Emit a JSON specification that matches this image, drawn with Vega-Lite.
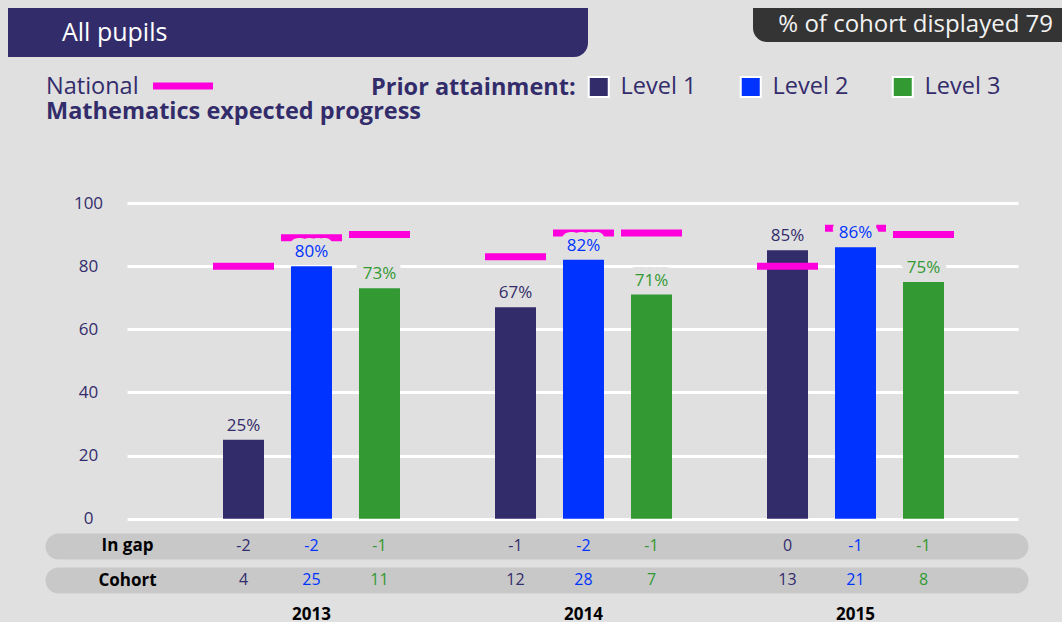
{
  "$schema": "https://vega.github.io/schema/vega-lite/v6.json",
  "background": "#e0e0e0",
  "padding": {"left": 8, "top": 8, "right": 0, "bottom": 4},
  "config": {"font": "Open Sans", "view": {"stroke": null}},
  "spacing": 43,
  "vconcat": [
    {
      "spacing": 165,
      "hconcat": [
        {
          "width": 580, "height": 49,
          "data": {"values": [{"t": "All pupils"}]},
          "layer": [
            {"mark": {"type": "rect", "color": "#332c6b", "cornerRadiusBottomRight": 14}, "encoding": {}},
            {"mark": {"type": "text", "align": "left", "baseline": "middle", "dx": -236, "color": "#ffffff", "fontSize": 25}, "encoding": {"text": {"field": "t"}}}
          ]
        },
        {
          "width": 309, "height": 34,
          "data": {"values": [{"t": "% of cohort displayed 79"}]},
          "layer": [
            {"mark": {"type": "rect", "color": "#343434", "cornerRadiusBottomLeft": 14}, "encoding": {}},
            {"mark": {"type": "text", "align": "right", "baseline": "middle", "dx": 145.5, "color": "#f2f2f2", "fontSize": 24}, "encoding": {"text": {"field": "t"}}}
          ]
        }
      ]
    },
    {
      "spacing": 0,
      "hconcat": [
        {
          "width": 37, "height": 1,
          "data": {"values": [{}]},
          "mark": {"type": "rect", "opacity": 0},
          "encoding": {}
        },
        {
          "width": 891,
          "height": 401,
          "data": {"values": [
            {"year": "2013", "level": "Level 1", "value": 25, "national": 80, "gap": -2, "cohort": 4},
            {"year": "2013", "level": "Level 2", "value": 80, "national": 89, "gap": -2, "cohort": 25},
            {"year": "2013", "level": "Level 3", "value": 73, "national": 90, "gap": -1, "cohort": 11},
            {"year": "2014", "level": "Level 1", "value": 67, "national": 83, "gap": -1, "cohort": 12},
            {"year": "2014", "level": "Level 2", "value": 82, "national": 90.5, "gap": -2, "cohort": 28},
            {"year": "2014", "level": "Level 3", "value": 71, "national": 90.5, "gap": -1, "cohort": 7},
            {"year": "2015", "level": "Level 1", "value": 85, "national": 80, "gap": 0, "cohort": 13},
            {"year": "2015", "level": "Level 2", "value": 86, "national": 92, "gap": -1, "cohort": 21},
            {"year": "2015", "level": "Level 3", "value": 75, "national": 90, "gap": -1, "cohort": 8}
          ]},
          "transform": [{"calculate": "datum.value + '%'", "as": "label"}],
          "title": {"text": "Mathematics expected progress", "orient": "top", "anchor": "start", "frame": "group", "dx": -81, "offset": 51.5, "baseline": "alphabetic", "color": "#332c6b", "fontSize": 23.5, "fontWeight": "bold"},
          "encoding": {
            "x": {"field": "year", "type": "nominal",
              "scale": {"paddingInner": 0.3493, "paddingOuter": 0.3125, "align": 0.5647},
              "axis": {"title": null, "labelAngle": 0, "domain": false, "ticks": false, "labelPadding": 2, "labelFontSize": 17, "labelFontWeight": "bold", "labelColor": "#000000"}},
            "xOffset": {"field": "level", "type": "nominal", "scale": {"paddingInner": 0.397, "paddingOuter": 0}}
          },
          "layer": [
            {
              "mark": {"type": "bar"},
              "encoding": {
                "y": {"field": "value", "type": "quantitative", "scale": {"domain": [-27, 100], "nice": false},
                  "axis": {"orient": "left", "title": null, "values": [0, 20, 40, 60, 80, 100], "grid": true, "gridColor": "#ffffff", "gridWidth": 3, "domain": false, "ticks": false, "tickSize": 0, "labelPadding": 39, "labelAlign": "center", "labelBaseline": "middle", "labelFontSize": 17, "labelColor": "#332c6b"}},
                "color": {"field": "level", "type": "nominal",
                  "scale": {"domain": ["Level 1", "Level 2", "Level 3"], "range": ["#332c6b", "#0033ff", "#339933"]},
                  "legend": {"title": "Prior attainment:", "orient": "none", "direction": "horizontal", "titleOrient": "left", "titleAnchor": "middle", "titleBaseline": "middle", "titleLimit": 400, "legendX": 363, "legendY": 67, "symbolType": "square", "symbolSize": 400, "symbolStrokeColor": "#ffffff", "symbolStrokeWidth": 2, "symbolOpacity": 1, "labelFontSize": 23.5, "labelColor": "#332c6b", "labelOffset": 10, "columnPadding": 39, "titleFontSize": 23.5, "titleColor": "#332c6b", "titleFontWeight": "bold", "titlePadding": 11}}
              }
            },
            {
              "mark": {"type": "tick", "orient": "horizontal", "size": 61, "thickness": 7, "opacity": 1},
              "encoding": {
                "y": {"field": "national", "type": "quantitative", "axis": null},
                "fill": {"datum": "National", "scale": {"range": ["#ff00dd"]},
                  "legend": {"title": "National", "orient": "none", "titleOrient": "left", "titleAnchor": "middle", "titleBaseline": "middle", "legendX": 38, "legendY": 71, "symbolType": "M-2.727,-0.682H2.727V-0.045H-2.727Z", "symbolSize": 484, "symbolStrokeWidth": 0, "symbolOpacity": 1, "labelExpr": "''", "titleFontSize": 23.5, "titleFontWeight": "normal", "titleColor": "#332c6b", "titlePadding": 33}}
              }
            },
            {
              "mark": {"type": "text", "baseline": "alphabetic", "dy": -9, "fontSize": 17, "fill": "#e0e0e0", "stroke": "#e0e0e0", "strokeWidth": 14, "strokeJoin": "round"},
              "encoding": {
                "y": {"field": "value", "type": "quantitative", "axis": null},
                "text": {"field": "label"}
              }
            },
            {
              "mark": {"type": "text", "baseline": "alphabetic", "dy": -9, "fontSize": 17},
              "encoding": {
                "y": {"field": "value", "type": "quantitative", "axis": null},
                "text": {"field": "label"},
                "color": {"field": "level", "type": "nominal", "legend": null}
              }
            },
            {
              "mark": {"type": "text", "baseline": "middle", "fontSize": 16},
              "encoding": {
                "y": {"datum": -8.5, "axis": {"orient": "left", "title": null, "values": [-8.5, -19.5], "labelExpr": "datum.value > -14 ? 'In gap' : 'Cohort'", "offset": 69, "ticks": true, "tickSize": -957, "tickWidth": 26, "tickCap": "round", "tickColor": "#c8c8c8", "domain": false, "grid": false, "labelPadding": 888, "labelAlign": "center", "labelBaseline": "middle", "labelFontWeight": "bold", "labelColor": "#000000", "labelFontSize": 17, "zindex": 0}},
                "text": {"field": "gap"},
                "color": {"field": "level", "type": "nominal", "legend": null}
              }
            },
            {
              "mark": {"type": "text", "baseline": "middle", "fontSize": 16},
              "encoding": {
                "y": {"datum": -19.5, "axis": null},
                "text": {"field": "cohort"},
                "color": {"field": "level", "type": "nominal", "legend": null}
              }
            }
          ],
          "resolve": {"axis": {"y": "independent"}}
        }
      ]
    }
  ]
}
